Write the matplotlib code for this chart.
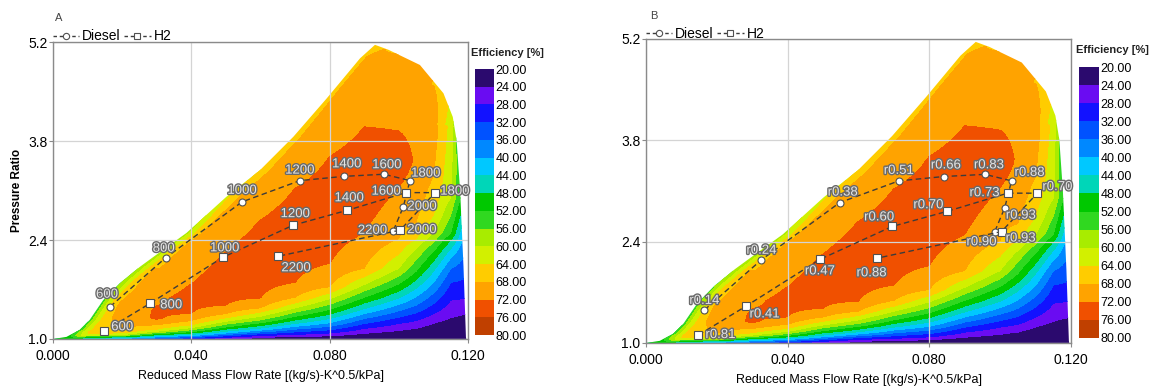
import numpy as np
import matplotlib
matplotlib.use("Agg")
import matplotlib.pyplot as plt
from matplotlib.colors import ListedColormap, BoundaryNorm
from matplotlib.patches import Polygon
from matplotlib.lines import Line2D
from matplotlib.ticker import FixedLocator, FormatStrFormatter
import matplotlib.patheffects as pe

plt.rcParams['font.family'] = ['Liberation Sans', 'DejaVu Sans']

# ---------------- data ----------------
speeds = ['600', '800', '1000', '1200', '1400', '1600', '1800', '2000', '2200']

diesel_x = [0.0165, 0.0326, 0.0547, 0.0714, 0.0841, 0.0957, 0.1032, 0.1013, 0.0984]
diesel_y = [1.457, 2.15, 2.94, 3.24, 3.30, 3.33, 3.24, 2.87, 2.53]
h2_x = [0.0148, 0.0281, 0.0491, 0.0695, 0.0851, 0.1021, 0.1105, 0.1004, 0.0651]
h2_y = [1.11, 1.505, 2.155, 2.61, 2.82, 3.07, 3.07, 2.54, 2.17]

diesel_ratio = ['r0.14', 'r0.24', 'r0.38', 'r0.51', 'r0.66', 'r0.83', 'r0.88', 'r0.93', 'r0.90']
h2_ratio = ['r0.81', 'r0.41', 'r0.47', 'r0.60', 'r0.70', 'r0.73', 'r0.70', 'r0.93', 'r0.88']

# map envelope: surge line (left/top) and choke side (right)
surge_x = [0.0, 0.0039, 0.0077, 0.0106, 0.0145, 0.0193, 0.0251, 0.0318, 0.0386, 0.0501, 0.0599, 0.0695, 0.0791, 0.0888, 0.0931]
surge_y = [1.0, 1.03, 1.13, 1.27, 1.55, 1.79, 2.02, 2.26, 2.50, 3.01, 3.39, 3.86, 4.40, 4.97, 5.16]
choke_x = [0.0931, 0.0970, 0.1061, 0.1129, 0.1156, 0.1167, 0.1177, 0.1187, 0.1194, 0.1195]
choke_y = [5.16, 5.09, 4.875, 4.475, 4.14, 3.81, 3.11, 2.02, 1.03, 1.0]

# efficiency on the surge edge and just inside it (two small offsets)
edge_y = [1.0, 1.05, 1.1, 1.25, 1.45, 1.7, 2.0, 2.5, 3.0, 3.5, 4.0, 4.5, 5.0, 5.16]
edge_e = [48, 49, 50, 52, 53, 54, 56, 58, 62, 64.5, 65, 65.5, 65.5, 66]
near1_e = [47, 55, 58, 59, 59, 59, 60, 61.5, 65, 67, 67.5, 68, 68, 67]
near2_e = [45, 62, 66, 67, 67.5, 67.5, 67.5, 68, 69, 69.5, 70, 70, 69, 67.5]

# efficiency on the choke edge
chokee_y = [1.0, 1.15, 1.3, 1.45, 1.7, 2.0, 2.3, 2.5, 2.75, 3.0, 3.5, 3.8, 4.14, 4.3, 4.475, 4.7, 4.875, 5.0, 5.09, 5.16]
chokee_e = [17, 20, 23, 26, 30, 34, 38, 42, 47, 52, 54, 55, 61, 64, 66, 68.5, 69, 68.5, 67, 66]

# efficiency read along vertical columns inside the map
prof_x = [0.010, 0.020, 0.030, 0.040, 0.050, 0.060, 0.070, 0.080, 0.090, 0.100, 0.105, 0.110, 0.115]
prof_y = [
    [1.0, 1.05, 1.1, 1.2],
    [1.0, 1.03, 1.06, 1.1, 1.15, 1.3, 1.5, 1.6],
    [1.0, 1.015, 1.03, 1.045, 1.06, 1.075, 1.09, 1.11, 1.14, 1.2, 1.26, 1.3, 1.4, 1.5, 1.7, 2.0, 2.1],
    [1.0, 1.02, 1.035, 1.05, 1.065, 1.085, 1.105, 1.13, 1.16, 1.20, 1.26, 1.36, 1.58, 1.78, 2.05, 2.35, 2.5],
    [1.0, 1.025, 1.045, 1.065, 1.085, 1.11, 1.14, 1.17, 1.21, 1.25, 1.30, 1.36, 1.48, 1.85, 2.23, 2.55, 2.85],
    [1.0, 1.025, 1.05, 1.075, 1.10, 1.125, 1.155, 1.19, 1.23, 1.27, 1.32, 1.38, 1.44, 1.58, 2.1, 2.68, 3.0, 3.3],
    [1.0, 1.035, 1.065, 1.10, 1.14, 1.18, 1.22, 1.27, 1.32, 1.38, 1.44, 1.51, 1.59, 1.80, 2.45, 3.13, 3.45, 3.8],
    [1.0, 1.045, 1.085, 1.13, 1.18, 1.23, 1.29, 1.35, 1.42, 1.49, 1.57, 1.65, 1.74, 2.07, 2.8, 3.58, 3.95, 4.3],
    [1.0, 1.08, 1.15, 1.22, 1.29, 1.36, 1.43, 1.51, 1.59, 1.68, 1.77, 1.88, 2.0, 2.5, 3.2, 4.0, 4.5, 4.9],
    [1.0, 1.12, 1.22, 1.31, 1.40, 1.49, 1.58, 1.68, 1.78, 1.89, 2.0, 2.2, 2.42, 3.15, 3.55, 3.94, 4.5, 5.0],
    [1.0, 1.15, 1.26, 1.37, 1.48, 1.60, 1.72, 1.84, 1.96, 2.12, 2.28, 2.42, 2.65, 3.0, 3.5, 4.0, 4.5, 4.9],
    [1.0, 1.1, 1.22, 1.36, 1.50, 1.65, 1.80, 1.96, 2.10, 2.24, 2.37, 2.50, 2.75, 3.0, 3.3, 3.8, 4.2, 4.5, 4.7],
    [1.0, 1.15, 1.3, 1.55, 1.8, 2.0, 2.15, 2.28, 2.4, 2.5, 2.75, 3.0, 3.8, 4.2],
]
prof_e = [
    [44, 54, 58, 58],
    [36, 48, 60, 66, 68.5, 69.5, 68.5, 67.5],
    [32, 36, 40, 44, 48, 52, 56, 60, 64, 68, 71.5, 72.6, 72.5, 71.8, 70, 69, 68.5],
    [28, 32, 36, 40, 44, 48, 52, 56, 60, 64, 68, 72, 73.5, 72, 70, 69, 68.5],
    [25, 28, 32, 36, 40, 44, 48, 52, 56, 60, 64, 68, 72, 74.5, 72, 70, 69],
    [22, 24, 28, 32, 36, 40, 44, 48, 52, 56, 60, 64, 68, 72, 75, 72, 70, 69],
    [20, 24, 28, 32, 36, 40, 44, 48, 52, 56, 60, 64, 68, 72, 75, 72, 70, 69],
    [19, 24, 28, 32, 36, 40, 44, 48, 52, 56, 60, 64, 68, 72, 75, 72, 70, 69.5],
    [18, 24, 28, 32, 36, 40, 44, 48, 52, 56, 60, 64, 68, 72, 75, 72, 70, 69.5],
    [18, 24, 28, 32, 36, 40, 44, 48, 52, 56, 60, 64, 68, 72, 74, 72, 70.5, 69.5],
    [17, 24, 28, 32, 36, 40, 44, 48, 52, 56, 60, 64, 68, 70, 71.5, 71, 70, 69],
    [16, 20, 24, 28, 32, 36, 40, 44, 48, 52, 56, 60, 64, 66, 68, 69.5, 70, 68.5, 67.5],
    [15, 20, 24, 28, 32, 36, 40, 44, 48, 52, 56, 60, 62, 63],
]

levels = list(range(20, 81, 4))
band_colors = ['#2b0a6e', '#6a0cf2', '#1212ff', '#0052ff', '#0088ff', '#00c8ff',
               '#00d6b8', '#00c800', '#30d820', '#a8ec00', '#d2f000', '#ffcc00',
               '#ffa300', '#f05000', '#c04000']

# ---------------- style / placement ----------------
W, H = 1155, 388
fig = plt.figure(figsize=(W / 100, H / 100), dpi=100)

def frac(x0, y0, x1, y1):
    return [x0 / W, 1 - y1 / H, (x1 - x0) / W, (y1 - y0) / H]

NEAR1, NEAR2 = 0.0015, 0.0045

# label offsets (pixels) and alignment
offA_d = [(-3, 12, 'center'), (-2, 9, 'center'), (0, 11, 'center'), (0, 10, 'center'),
          (3, 12, 'center'), (3, 9, 'center'), (16, 7, 'center'), (4, 0, 'left'), (-6, 0, 'right')]
offA_h = [(7, 4, 'left'), (10, -2, 'left'), (2, 9, 'center'), (2, 11, 'center'),
          (2, 12, 'center'), (-5, 1, 'right'), (5, 1, 'left'), (7, 0, 'left'), (18, -12, 'center')]
offB_d = [(0, 9, 'center'), (0, 9, 'center'), (3, 10, 'center'), (0, 10, 'center'),
          (2, 11, 'center'), (4, 9, 'center'), (3, 8, 'left'), (1, -8, 'left'), (-13, -10, 'center')]
offB_h = [(7, 0, 'left'), (4, -8, 'left'), (0, -12, 'center'), (-13, 9, 'center'),
          (-19, 6, 'center'), (-8, 0, 'right'), (5, 6, 'left'), (4, -7, 'left'), (-5, -15, 'center')]

cmap = ListedColormap(band_colors)

# ---- build the efficiency field row by row from the read profiles ----
xf = np.linspace(0.0, 0.12, 481)
yf = np.linspace(1.0, 5.2, 421)
cx_rev, cy_rev = choke_x[::-1], choke_y[::-1]
Z = np.full((len(yf), len(xf)), 66.0)
for i, y in enumerate(yf):
    if y > surge_y[-1]:
        continue
    xs = np.interp(y, surge_y, surge_x)
    xc = np.interp(y, cy_rev, cx_rev)
    px = [xs]
    pv = [np.interp(y, edge_y, edge_e)]
    if xs + NEAR1 < xc - 0.0005:
        px.append(xs + NEAR1); pv.append(np.interp(y, edge_y, near1_e))
    if xs + NEAR2 < xc - 0.0008:
        px.append(xs + NEAR2); pv.append(np.interp(y, edge_y, near2_e))
    for xj, cy, ce in zip(prof_x, prof_y, prof_e):
        if xs + NEAR2 + 0.001 < xj < xc - 0.001:
            px.append(xj); pv.append(np.interp(y, cy, ce))
    px.append(xc); pv.append(np.interp(y, chokee_y, chokee_e))
    order = np.argsort(px)
    Z[i] = np.interp(xf, np.array(px)[order], np.array(pv)[order])
Z = np.clip(Z, levels[0] + 0.01, levels[-1] - 0.01)

env = list(zip(surge_x, surge_y)) + list(zip(choke_x[1:], choke_y[1:]))

label_fx = [pe.withStroke(linewidth=2.0, foreground='#6a6a6a')]
gray = '#8a8a8a'


def panel(rect, crect, letter, letter_xy, lab_d, lab_h, off_d, off_h, ylabel, eff_xy):
    norm = BoundaryNorm(levels, cmap.N)
    ax = fig.add_axes(rect)
    cs = ax.contourf(xf, yf, Z, levels=levels, cmap=cmap, norm=norm, zorder=1)
    poly = Polygon(env, closed=True, transform=ax.transData)
    cs.set_clip_path(poly)
    ax.set_xlim(0, 0.12)
    ax.set_ylim(1.0, 5.2)
    ax.set_xticks([0.0, 0.04, 0.08, 0.12])
    ax.set_xticklabels(['0.000', '0.040', '0.080', '0.120'])
    ax.set_yticks([1.0, 2.4, 3.8, 5.2])
    ax.set_yticklabels(['1.0', '2.4', '3.8', '5.2'])
    ax.tick_params(labelsize=10, length=3, color=gray)
    ax.tick_params(axis='y', pad=1)
    ax.tick_params(axis='x', pad=4)
    ax.grid(True, color='#d4d4d4', lw=0.9, zorder=2)
    for s in ax.spines.values():
        s.set_color(gray)
        s.set_linewidth(1.0)
    ax.set_xlabel('Reduced Mass Flow Rate [(kg/s)-K^0.5/kPa]', fontsize=9, labelpad=5)
    if ylabel:
        ax.set_ylabel('Pressure Ratio', fontsize=8.5, fontweight='bold', labelpad=4)

    ax.plot(diesel_x, diesel_y, ls=(0, (4, 2.5)), color='#3c3c3c', lw=1.0, marker='o',
            ms=5, mfc='white', mec='#505050', mew=0.8, zorder=3)
    ax.plot(h2_x, h2_y, ls=(0, (4, 2.5)), color='#3c3c3c', lw=1.0, marker='s',
            ms=5.5, mfc='white', mec='#505050', mew=0.8, zorder=3)

    for xs_, ys_, labs, offs in [(diesel_x, diesel_y, lab_d, off_d), (h2_x, h2_y, lab_h, off_h)]:
        for x, y, t, (dx, dy, ha) in zip(xs_, ys_, labs, offs):
            ax.annotate(t, (x, y), xytext=(dx, dy), textcoords='offset pixels',
                        ha=ha, va='center', fontsize=9.5, color='#e4e4e4',
                        path_effects=label_fx, zorder=4)

    handles = [Line2D([], [], ls=(0, (2.5, 2)), color='#3c3c3c', lw=1.0, marker='o', ms=4.5,
                      mfc='white', mec='#505050', mew=0.8),
               Line2D([], [], ls=(0, (2.5, 2)), color='#3c3c3c', lw=1.0, marker='s', ms=5,
                      mfc='white', mec='#505050', mew=0.8)]
    ax.legend(handles, ['Diesel', 'H2'], loc='lower left', bbox_to_anchor=(0.0, 0.995),
              ncol=2, frameon=False, fontsize=10, borderaxespad=0, borderpad=0,
              handlelength=1.9, handletextpad=0.2, columnspacing=0.25)

    fig.text(letter_xy[0] / W, 1 - letter_xy[1] / H, letter, fontsize=8, color='#444444',
             ha='left', va='center')

    cax = fig.add_axes(crect)
    sm = matplotlib.cm.ScalarMappable(norm=BoundaryNorm(levels, cmap.N), cmap=cmap)
    cb = fig.colorbar(sm, cax=cax)
    cb.outline.set_visible(False)
    cax.yaxis.set_major_locator(FixedLocator(levels))
    cax.yaxis.set_major_formatter(FormatStrFormatter('%.2f'))
    cax.set_ylim(levels[-1], levels[0])
    cax.tick_params(length=0, labelsize=9, pad=1)
    fig.text(eff_xy[0] / W, 1 - eff_xy[1] / H, 'Efficiency [%]', fontsize=8,
             fontweight='bold', ha='left', va='center', color='#222222')
    return ax


panel(frac(53, 42, 468, 339), frac(475, 69, 494, 335), 'A', (55, 18),
      speeds, speeds, offA_d, offA_h, True, (471, 53))
panel(frac(646, 39, 1071, 343), frac(1079, 67, 1099, 338), 'B', (650, 16),
      diesel_ratio, h2_ratio, offB_d, offB_h, False, (1076, 50))

fig.savefig('out.png', dpi=100)
